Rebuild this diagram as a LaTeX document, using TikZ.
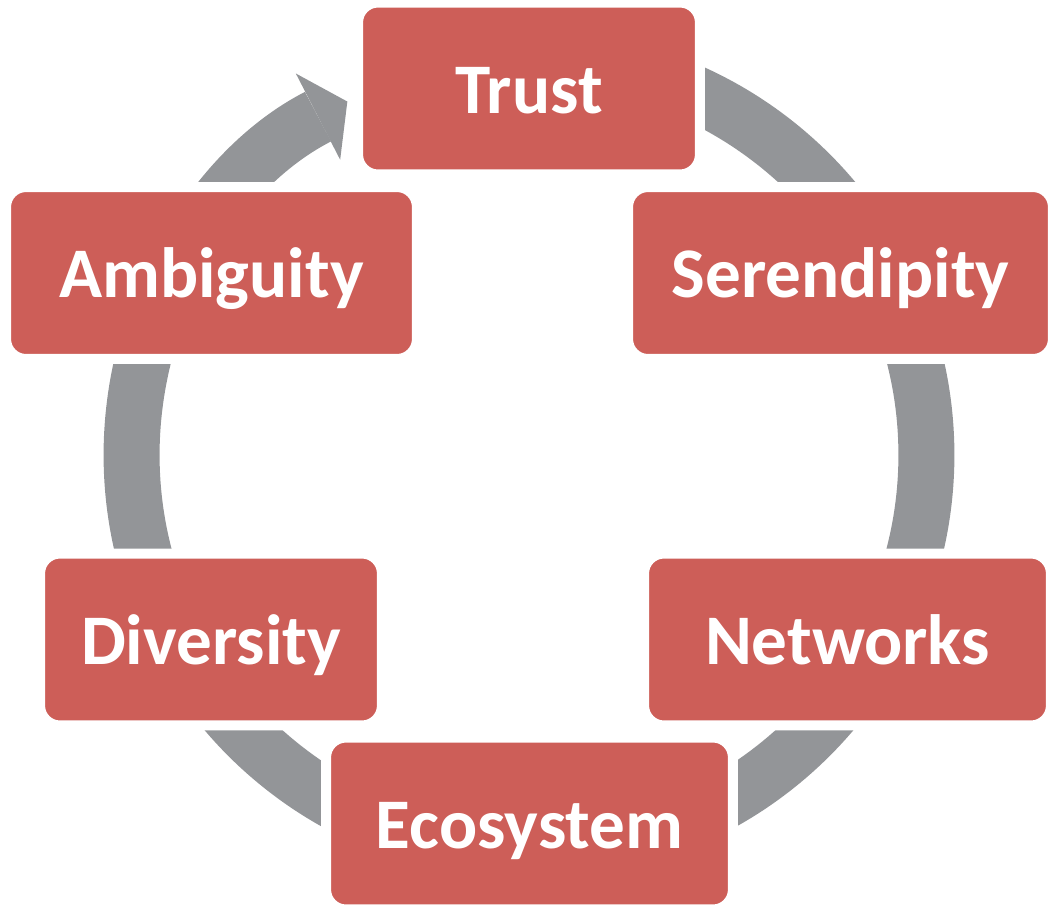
\documentclass[tikz,border=0pt]{standalone}
\usepackage{fontspec}
\setmainfont{Carlito}
\usetikzlibrary{arrows.meta}
\definecolor{boxred}{RGB}{205,94,88}
\definecolor{ringgray}{RGB}{147,149,152}
\tikzset{>={Triangle[width=1.94cm,length=0.66cm,line width=0pt]}}
\tikzset{stage/.style={fill=boxred, draw=white, line width=0.2cm, rounded corners=0.4cm,
    minimum height=3.44cm, inner sep=0pt, text=white, text height=28pt, text depth=0pt,
    font=\bfseries\fontsize{40.5}{48}\selectfont}}

\begin{document}
\begin{tikzpicture}[x=0.02cm, y=-0.02cm]

  \newcommand\R{7.95cm}

  \useasboundingbox (0,0) rectangle (1049,904);
  \coordinate (hub) at (529,455);

  %% ring, ends with the tip in front of Trust
  \draw[->, ringgray, line width=1.12cm] ([shift={(90:\R)}]hub)
    arc[start angle=90, end angle=-242.8, radius=\R];

  \node[stage, minimum width=6.84cm] (trust) at (529,88.5) {Trust};
  \node[stage, minimum width=8.50cm] (serendipity) at (840.5,273) {Serendipity};
  \node[stage, minimum width=8.22cm] (ambiguity) at (211.5,273) {Ambiguity};
  \node[stage, minimum width=6.84cm] (diversity) at (211,639.5) {Diversity};
  \node[stage, minimum width=8.14cm] (networks) at (847.5,639.5) {Networks};
  \node[stage, minimum width=8.14cm] (ecosystem) at (529.5,823.5) {Ecosystem};

\end{tikzpicture}
\end{document}
